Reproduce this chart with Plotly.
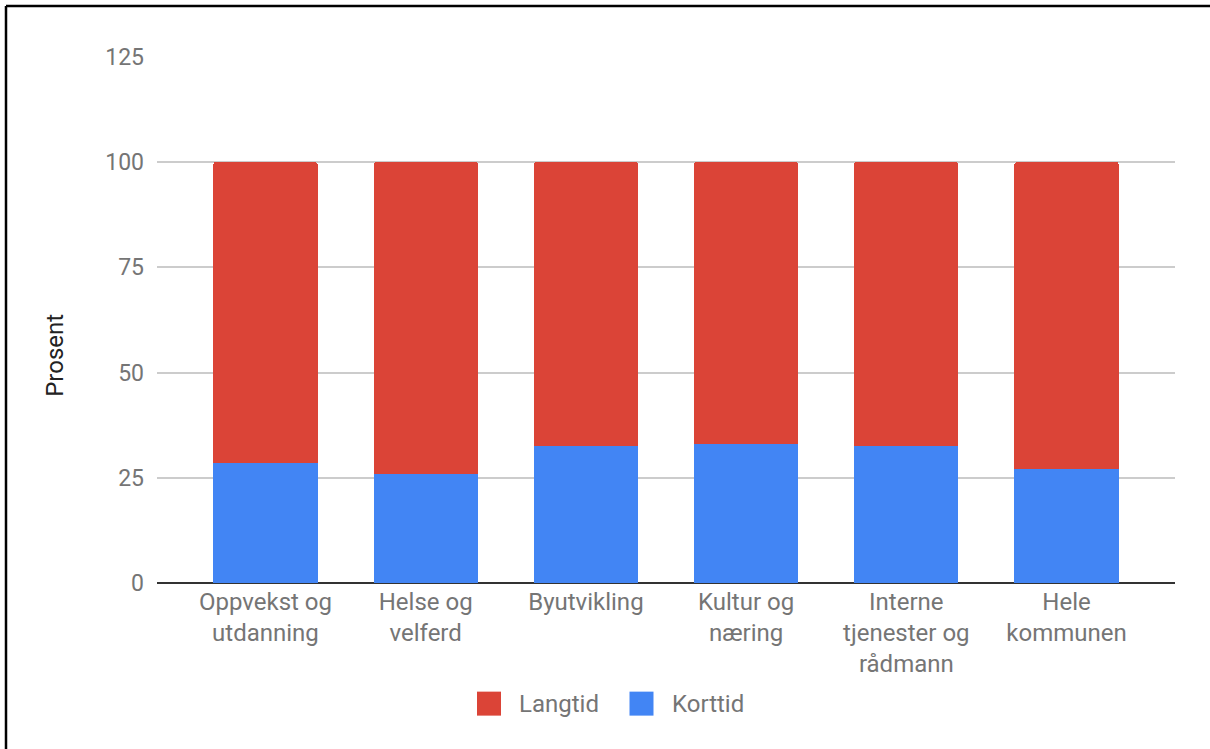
import plotly.graph_objects as go

categories = ["Oppvekst og<br>utdanning", "Helse og<br>velferd", "Byutvikling",
              "Kultur og<br>næring", "Interne<br>tjenester og<br>rådmann", "Hele<br>kommunen"]
korttid = [28.6, 25.8, 32.5, 33.0, 32.5, 27.2]
langtid = [round(100 - v, 1) for v in korttid]
y_ticks = [0, 25, 50, 75, 100, 125]
series_names = ["Langtid", "Korttid"]
series_colors = ["#DB4437", "#4285F4"]

GRAY = "#757575"
FONT = "Roboto"

# plot area in pixels: x 157..1175, y 57..583.3
PL, PR, PT, PB = 157, 1175, 57, 583.3
PW, PH = PR - PL, PB - PT


def px(x):
    return (x - PL) / PW


def py(y):
    return (PB - y) / PH


fig = go.Figure()
fig.add_trace(go.Bar(x=categories, y=korttid, name="Korttid", showlegend=False,
                     marker=dict(color=series_colors[1], line=dict(width=0))))
fig.add_trace(go.Bar(x=categories, y=langtid, name="Langtid", showlegend=False,
                     marker=dict(color=series_colors[0], line=dict(width=0))))

# legend (drawn manually to get the large square keys)
legend_keys = [(477, 517), (629.5, 669.5)]
shapes = [
    dict(type="line", xref="paper", yref="paper", x0=px(6), x1=px(6),
         y0=py(760), y1=py(6), line=dict(color="black", width=2.5)),
    dict(type="line", xref="paper", yref="paper", x0=px(6), x1=px(1215),
         y0=py(6), y1=py(6), line=dict(color="black", width=2.5)),
]
annotations = [dict(text="Prosent", xref="paper", yref="paper", x=px(55), y=py(356),
                    textangle=-90, showarrow=False, xanchor="center", yanchor="middle",
                    font=dict(family=FONT, size=24, color="#222222"))]
for (kx, tx), name, col in zip(legend_keys, series_names, series_colors):
    shapes.append(dict(type="rect", xref="paper", yref="paper",
                       x0=px(kx), x1=px(kx + 24), y0=py(716), y1=py(692),
                       fillcolor=col, line=dict(width=0)))
    annotations.append(dict(text=name, xref="paper", yref="paper", x=px(tx), y=py(704),
                            xanchor="left", yanchor="middle", showarrow=False,
                            font=dict(family=FONT, size=24, color=GRAY)))

fig.update_layout(
    width=1210, height=749,
    margin=dict(l=157, r=35, t=57, b=166),
    barmode="stack",
    bargap=0.35,
    barcornerradius=2,
    plot_bgcolor="white",
    paper_bgcolor="white",
    font=dict(family=FONT, size=24, color=GRAY),
    showlegend=False,
    xaxis=dict(range=[-0.677, 5.677], showgrid=False, ticks="", showline=False,
               tickfont=dict(size=24, color=GRAY), ticklabelstandoff=2),
    yaxis=dict(range=[0, 125], tickvals=y_ticks, showgrid=True, gridcolor="#cccccc",
               gridwidth=1.5, zeroline=True, zerolinecolor="#333333", zerolinewidth=2,
               showline=False, ticks="", tickfont=dict(size=23, color=GRAY),
               ticklabelstandoff=12),
    annotations=annotations,
    shapes=shapes,
)

fig.write_html("out.html", config={"displayModeBar": False},
               post_script="document.body.style.margin='0';")
